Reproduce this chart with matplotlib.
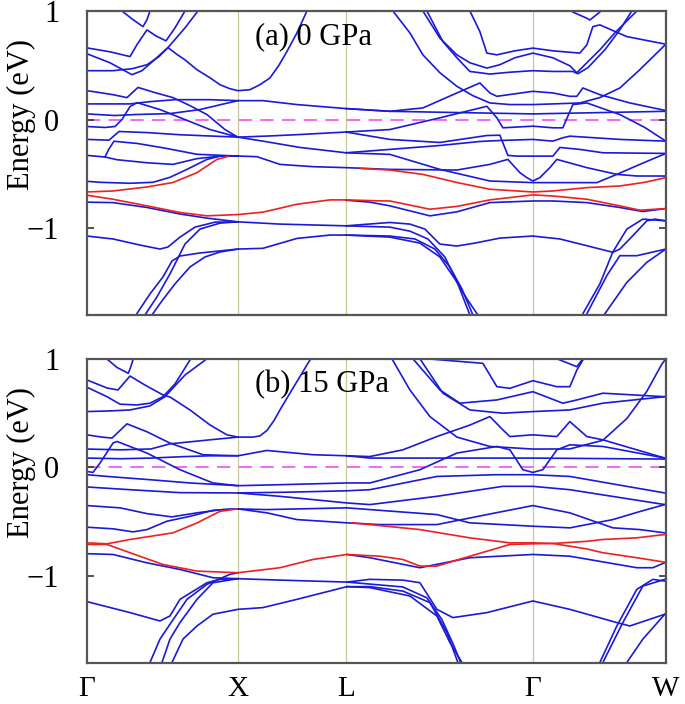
import matplotlib
matplotlib.use("Agg")
import matplotlib.pyplot as plt

plt.rcParams['font.family'] = ['Liberation Serif', 'DejaVu Serif']

# high-symmetry points along the k-path (path length, arbitrary units)
kpts = [0.0, 1.51, 2.59, 4.46, 5.79]
klabels = ['Γ', 'X', 'L', 'Γ', 'W']
ylim = (-1.8, 1.0)

# panel (a) 0 GPa : bands as (k, E[eV]) points
a_blue = [
    [(0.30, 1.06), (0.35, 1.00), (0.46, 0.92), (0.56, 0.856), (0.60, 0.92), (0.63, 1.0), (0.66, 1.08)],
    [(0.00, 0.66), (0.23, 0.624), (0.43, 0.58), (0.50, 0.69), (0.60, 0.826), (0.69, 0.77), (0.79, 0.725),
     (0.88, 0.844), (0.98, 1.0), (1.03, 1.07)],
    [(0.00, 0.606), (0.23, 0.523), (0.45, 0.413), (0.55, 0.45), (0.65, 0.53), (0.81, 0.663), (0.98, 0.844),
     (1.11, 1.0), (1.17, 1.07)],
    [(0.00, 0.45), (0.26, 0.45), (0.45, 0.468), (0.60, 0.505), (0.72, 0.58), (0.81, 0.663), (0.90, 0.60),
     (0.98, 0.55), (1.10, 0.459), (1.23, 0.385), (1.33, 0.321), (1.43, 0.284), (1.51, 0.266), (1.63, 0.275),
     (1.73, 0.321), (1.83, 0.383), (1.92, 0.50), (2.00, 0.627), (2.10, 0.798), (2.20, 1.0), (2.25, 1.09)],
    [(0.00, 0.266), (0.13, 0.248), (0.26, 0.229), (0.40, 0.202), (0.51, 0.296), (0.68, 0.248), (0.86, 0.202),
     (1.03, 0.128), (1.20, 0.046), (1.38, -0.092), (1.51, -0.162), (1.83, -0.151), (2.13, -0.138),
     (2.59, -0.115), (3.03, -0.092), (3.53, 0.016), (4.00, 0.122), (4.10, 0.016), (4.16, -0.076),
     (4.46, -0.061), (4.66, -0.076), (4.76, -0.076), (4.86, 0.138), (5.00, 0.153), (5.33, 0.046),
     (5.58, -0.073), (5.79, -0.199)],
    [(0.00, 0.144), (0.43, 0.144), (0.63, 0.165), (0.88, 0.183), (1.23, 0.183), (1.51, 0.174), (1.76, 0.174),
     (2.10, 0.138), (2.59, 0.101), (3.03, 0.076), (3.73, 0.064), (4.46, 0.052), (5.13, 0.064), (5.79, 0.076)],
    [(0.00, 0.052), (0.28, 0.037), (0.48, 0.046), (0.83, 0.055), (1.13, 0.092), (1.35, 0.14), (1.51, 0.174)],
    [(2.59, 0.101), (3.03, 0.076), (3.36, 0.107), (3.70, 0.245), (3.93, 0.337), (4.03, 0.245), (4.10, 0.214),
     (4.46, 0.26), (4.66, 0.245), (4.83, 0.214), (4.90, 0.214), (4.96, 0.291), (5.13, 0.229), (5.43, 0.153),
     (5.79, 0.083)],
    [(0.00, -0.064), (0.18, -0.073), (0.28, -0.064), (0.35, 0.0), (0.43, 0.119), (0.50, 0.156), (0.73, 0.092),
     (0.98, 0.0), (1.23, -0.092), (1.51, -0.162), (1.78, -0.202), (2.13, -0.257), (2.59, -0.306),
     (3.03, -0.275), (3.53, -0.239), (3.93, -0.202), (4.13, -0.193), (4.46, -0.183), (4.66, -0.199),
     (4.76, -0.168), (4.83, -0.153), (5.33, -0.183), (5.79, -0.199)],
    [(0.00, -0.183), (0.22, -0.19), (0.27, -0.15), (0.32, -0.11), (0.60, -0.12), (0.93, -0.14), (1.51, -0.162)],
    [(0.00, -0.33), (0.18, -0.345), (0.22, -0.27), (0.27, -0.20), (0.50, -0.22), (0.76, -0.26), (1.10, -0.32),
     (1.51, -0.336), (1.70, -0.342), (1.93, -0.413), (2.26, -0.434), (2.59, -0.443), (3.03, -0.459),
     (3.70, -0.465), (4.03, -0.413), (4.21, -0.367), (4.33, -0.489), (4.40, -0.535), (4.46, -0.566),
     (4.53, -0.535), (4.63, -0.443), (4.70, -0.367), (5.00, -0.443), (5.30, -0.505), (5.50, -0.52),
     (5.79, -0.52)],
    [(0.18, -0.345), (0.30, -0.37), (0.60, -0.398), (0.86, -0.413), (1.10, -0.36), (1.33, -0.337),
     (1.51, -0.336)],
    [(0.00, -0.569), (0.13, -0.578), (0.43, -0.587), (0.66, -0.578), (0.83, -0.532), (1.00, -0.459),
     (1.20, -0.367), (1.33, -0.337), (1.51, -0.336)],
    [(2.59, -0.115), (3.03, -0.183), (3.53, -0.211), (4.00, -0.147), (4.13, -0.144), (4.21, -0.33),
     (4.30, -0.337), (4.46, -0.337), (4.66, -0.337), (4.73, -0.257), (4.93, -0.275), (5.16, -0.306),
     (5.79, -0.312)],
    [(2.59, -0.306), (3.03, -0.321), (3.53, -0.459), (4.03, -0.566), (4.46, -0.581), (4.83, -0.581),
     (5.10, -0.581), (5.30, -0.505), (5.53, -0.413), (5.79, -0.312)],
    [(0.00, -0.761), (0.26, -0.765), (0.60, -0.81), (0.93, -0.87), (1.20, -0.908), (1.51, -0.942),
     (1.93, -0.963), (2.59, -0.979), (3.03, -0.948), (3.23, -0.963), (3.38, -1.009), (3.53, -1.147),
     (3.70, -1.165), (3.88, -1.138), (4.13, -1.092), (4.46, -1.073), (4.73, -1.10), (5.00, -1.162),
     (5.26, -1.223), (5.33, -1.193), (5.46, -1.07), (5.60, -0.933), (5.68, -0.917), (5.79, -0.933)],
    [(2.59, -0.743), (2.83, -0.761), (3.03, -0.795), (3.43, -0.887), (3.70, -0.85), (4.03, -0.765),
     (4.46, -0.75), (4.66, -0.75), (5.00, -0.765), (5.33, -0.81), (5.56, -0.847), (5.79, -0.82)],
    [(0.00, -1.073), (0.26, -1.10), (0.53, -1.156), (0.73, -1.193), (0.81, -1.174), (0.93, -1.083),
     (1.08, -0.991), (1.28, -0.945), (1.51, -0.942)],
    [(0.43, -1.89), (0.49, -1.80), (0.63, -1.606), (0.76, -1.45), (0.85, -1.303), (0.93, -1.257),
     (1.13, -1.229), (1.51, -1.193), (1.76, -1.186), (2.10, -1.095), (2.43, -1.064), (2.59, -1.064),
     (3.03, -1.073), (3.28, -1.10), (3.48, -1.193), (3.63, -1.358), (3.75, -1.56), (3.86, -1.80), (3.91, -1.91)],
    [(0.53, -1.89), (0.58, -1.80), (0.70, -1.633), (0.83, -1.422), (0.98, -1.147), (1.13, -1.009),
     (1.33, -0.954), (1.51, -0.942)],
    [(0.60, -1.89), (0.65, -1.80), (0.75, -1.67), (0.88, -1.514), (1.03, -1.358), (1.18, -1.266),
     (1.33, -1.22), (1.51, -1.193)],
    [(2.59, -1.064), (3.03, -1.083), (3.33, -1.138), (3.53, -1.266), (3.68, -1.468), (3.80, -1.651),
     (3.91, -1.80), (3.96, -1.89)],
    [(2.59, -0.979), (3.03, -0.991), (3.23, -1.028), (3.41, -1.10), (3.58, -1.266), (3.71, -1.514),
     (3.83, -1.80), (3.87, -1.89)],
    [(4.93, -1.89), (4.96, -1.789), (5.13, -1.514), (5.26, -1.22), (5.40, -1.009), (5.56, -0.917), (5.79, -0.933)],
    [(4.97, -1.89), (5.00, -1.789), (5.20, -1.437), (5.33, -1.254), (5.50, -1.254), (5.79, -1.193)],
    [(5.13, -1.89), (5.18, -1.789), (5.40, -1.50), (5.60, -1.315), (5.79, -1.193)],
    [(3.03, 1.055), (3.06, 1.0), (3.23, 0.798), (3.36, 0.596), (3.53, 0.431), (3.70, 0.306), (3.86, 0.22),
     (4.03, 0.153), (4.23, 0.138), (4.46, 0.138), (4.66, 0.144), (4.93, 0.153), (5.13, 0.202), (5.33, 0.291),
     (5.53, 0.459), (5.79, 0.694)],
    [(3.33, 1.055), (3.36, 1.0), (3.53, 0.75), (3.70, 0.596), (3.83, 0.523), (4.00, 0.474), (4.13, 0.505),
     (4.28, 0.569), (4.46, 0.612), (4.66, 0.569), (4.83, 0.495), (4.90, 0.431), (4.98, 0.505), (5.13, 0.642),
     (5.28, 0.798), (5.43, 0.936), (5.50, 1.0), (5.55, 1.06)],
    [(3.37, 1.055), (3.40, 1.0), (3.56, 0.718), (3.70, 0.569), (3.83, 0.443), (4.03, 0.419), (4.23, 0.436),
     (4.46, 0.45), (4.66, 0.443), (4.86, 0.443), (4.91, 0.422), (5.01, 0.477), (5.18, 0.642), (5.33, 0.826),
     (5.45, 1.0), (5.49, 1.06)],
    [(3.81, 1.055), (3.83, 1.0), (3.93, 0.81), (4.00, 0.612), (4.10, 0.596), (4.28, 0.633), (4.46, 0.658),
     (4.66, 0.633), (4.93, 0.612), (5.00, 0.688), (5.06, 0.856), (5.13, 0.872), (5.40, 0.764), (5.79, 0.694)],
    [(4.82, 1.06), (4.86, 0.99), (5.00, 0.933), (5.03, 0.917), (5.13, 0.99), (5.17, 1.06)],
]
a_red = [
    [(0.00, -0.667), (0.26, -0.658), (0.60, -0.621), (0.86, -0.58), (1.10, -0.489), (1.30, -0.367), (1.41, -0.34)],
    [(0.00, -0.697), (0.26, -0.734), (0.60, -0.795), (0.93, -0.856), (1.20, -0.887), (1.51, -0.875),
     (1.76, -0.853), (2.10, -0.78), (2.43, -0.74), (2.59, -0.74), (2.93, -0.749), (3.03, -0.75), (3.43, -0.826),
     (3.70, -0.80), (4.03, -0.74), (4.46, -0.694), (4.66, -0.704), (5.00, -0.734), (5.33, -0.795),
     (5.53, -0.835), (5.79, -0.82)],
    [(2.73, -0.45), (3.03, -0.465), (3.36, -0.505), (3.70, -0.58), (4.03, -0.642), (4.46, -0.667),
     (4.66, -0.658), (5.00, -0.627), (5.33, -0.612), (5.58, -0.578), (5.79, -0.535)],
]

# panel (b) 15 GPa
b_blue = [
    [(0.15, 1.06), (0.197, 1.0), (0.30, 0.92), (0.413, 0.866), (0.44, 0.93), (0.463, 1.0), (0.49, 1.06)],
    [(0.00, 0.805), (0.20, 0.731), (0.31, 0.713), (0.43, 0.841), (0.58, 0.758), (0.76, 0.667), (0.83, 0.648),
     (1.03, 0.529), (1.23, 0.391), (1.40, 0.30), (1.51, 0.279), (1.66, 0.279), (1.73, 0.29), (1.80, 0.34),
     (1.87, 0.43), (1.93, 0.529), (2.08, 0.76), (2.23, 0.988), (2.28, 1.06)],
    [(0.00, 0.738), (0.20, 0.651), (0.33, 0.582), (0.50, 0.575), (0.63, 0.591), (0.76, 0.651), (0.88, 0.768),
     (1.03, 0.988), (1.08, 1.06)],
    [(0.00, 0.514), (0.23, 0.52), (0.43, 0.529), (0.63, 0.566), (0.78, 0.651), (0.98, 0.85), (1.20, 1.0),
     (1.26, 1.06)],
    [(0.00, 0.30), (0.14, 0.28), (0.25, 0.27), (0.40, 0.401), (0.60, 0.328), (0.83, 0.224), (1.16, 0.117),
     (1.36, 0.111), (1.51, 0.107), (1.80, 0.156), (2.26, 0.117), (2.60, 0.107), (2.83, 0.086), (4.46, 0.086),
     (5.78, 0.077)],
    [(0.00, 0.169), (0.34, 0.162), (0.64, 0.17), (0.83, 0.217), (1.23, 0.254), (1.51, 0.279)],
    [(0.00, 0.086), (0.34, 0.08), (0.64, 0.086), (0.93, 0.098), (1.23, 0.107), (1.51, 0.107)],
    [(2.60, 0.107), (2.83, 0.10), (3.16, 0.162), (3.50, 0.284), (3.83, 0.39), (4.03, 0.468), (4.16, 0.346),
     (4.23, 0.284), (4.46, 0.30), (4.70, 0.284), (4.83, 0.422), (5.00, 0.284), (5.16, 0.254), (5.78, 0.086)],
    [(0.00, -0.037), (0.06, -0.046), (0.13, 0.04), (0.26, 0.224), (0.30, 0.239), (0.60, 0.132), (0.93, -0.021),
     (1.26, -0.143), (1.51, -0.168), (1.93, -0.159), (2.60, -0.143), (2.83, -0.143), (3.33, -0.021),
     (3.70, 0.132), (4.10, 0.193), (4.23, 0.162), (4.36, -0.021), (4.46, -0.046), (4.56, -0.021), (4.70, 0.162),
     (4.83, 0.208), (5.16, 0.193), (5.78, 0.086)],
    [(0.00, -0.067), (0.23, -0.085), (0.63, -0.113), (1.03, -0.143), (1.51, -0.168)],
    [(1.51, -0.235), (2.00, -0.228), (2.60, -0.215), (2.83, -0.205), (3.50, -0.083), (4.10, -0.067),
     (4.46, -0.067), (4.83, -0.083), (5.78, -0.235)],
    [(0.00, -0.18), (0.43, -0.205), (0.93, -0.232), (1.51, -0.235), (1.93, -0.266), (2.60, -0.327),
     (2.83, -0.342), (3.50, -0.266), (4.16, -0.174), (4.46, -0.174), (4.83, -0.205), (5.78, -0.342)],
    [(0.00, -0.351), (0.33, -0.372), (0.60, -0.425), (0.85, -0.455), (1.10, -0.418), (1.33, -0.39),
     (1.51, -0.382), (1.80, -0.388), (2.60, -0.372), (2.83, -0.388), (3.50, -0.434), (3.83, -0.51),
     (4.46, -0.541), (4.83, -0.556), (5.26, -0.48), (5.53, -0.406), (5.78, -0.342)],
    [(0.00, -0.55), (0.26, -0.565), (0.46, -0.593), (0.60, -0.572), (0.80, -0.495), (1.03, -0.45),
     (1.26, -0.395), (1.46, -0.382), (1.51, -0.382), (1.80, -0.418), (2.10, -0.48), (2.60, -0.51),
     (2.93, -0.526), (3.50, -0.526), (4.00, -0.434), (4.46, -0.351), (4.83, -0.418), (5.26, -0.556),
     (5.53, -0.572), (5.78, -0.602)],
    [(0.00, -0.794), (0.26, -0.801), (0.60, -0.878), (0.93, -0.939), (1.26, -1.015), (1.51, -1.024),
     (1.93, -1.037), (2.60, -1.055), (2.83, -1.03), (3.16, -1.037), (3.33, -1.061), (3.50, -1.306),
     (3.66, -1.382), (4.00, -1.336), (4.46, -1.229), (4.83, -1.306), (5.30, -1.428), (5.43, -1.459),
     (5.78, -1.351)],
    [(2.60, -0.801), (2.83, -0.831), (3.33, -0.923), (3.83, -0.831), (4.46, -0.801), (4.83, -0.817),
     (5.50, -0.923), (5.66, -0.923), (5.78, -0.877)],
    [(0.00, -1.235), (0.43, -1.336), (0.73, -1.413), (0.83, -1.367), (0.93, -1.214), (1.20, -1.061),
     (1.33, -1.03), (1.51, -1.024)],
    [(0.60, -1.9), (0.63, -1.795), (0.73, -1.58), (0.83, -1.443), (1.00, -1.214), (1.20, -1.076),
     (1.43, -0.984), (1.51, -0.969)],
    [(0.72, -1.9), (0.75, -1.795), (0.83, -1.58), (0.93, -1.428), (1.10, -1.214), (1.26, -1.061), (1.51, -1.024)],
    [(0.82, -1.9), (0.85, -1.795), (0.96, -1.58), (1.10, -1.459), (1.26, -1.351), (1.51, -1.306), (1.76, -1.29),
     (2.10, -1.214), (2.60, -1.097), (2.83, -1.097), (3.16, -1.138), (3.43, -1.244), (3.60, -1.519),
     (3.71, -1.795), (3.76, -1.9)],
    [(2.60, -1.097), (2.83, -1.106), (3.23, -1.183), (3.50, -1.367), (3.63, -1.611), (3.75, -1.795), (3.79, -1.9)],
    [(2.60, -1.055), (3.16, -1.10), (3.40, -1.20), (3.55, -1.40), (3.66, -1.62), (3.74, -1.80), (3.78, -1.9)],
    [(5.10, -1.9), (5.13, -1.795), (5.30, -1.459), (5.50, -1.122), (5.66, -1.03), (5.78, -1.046)],
    [(5.13, -1.9), (5.16, -1.795), (5.36, -1.428), (5.56, -1.092), (5.78, -1.03)],
    [(5.37, -1.9), (5.40, -1.795), (5.56, -1.58), (5.78, -1.351)],
    [(3.02, 1.06), (3.05, 1.0), (3.23, 0.713), (3.43, 0.468), (3.70, 0.279), (4.03, 0.193), (4.46, 0.169),
     (4.83, 0.17), (5.16, 0.25), (5.40, 0.45), (5.60, 0.70), (5.75, 0.95), (5.79, 1.0)],
    [(3.23, 1.06), (3.26, 1.0), (3.53, 0.713), (3.73, 0.591), (4.10, 0.621), (4.46, 0.697), (4.76, 0.591),
     (4.90, 0.621), (5.16, 0.683), (5.78, 0.651)],
    [(3.37, 1.06), (3.40, 1.0), (3.96, 0.958), (4.10, 0.743), (4.23, 0.728), (4.46, 0.798), (4.70, 0.743),
     (4.83, 0.743), (4.90, 0.896), (4.96, 0.988), (5.00, 1.06)],
    [(3.30, 1.06), (3.33, 1.0), (3.56, 0.683), (3.83, 0.529), (4.16, 0.499), (4.46, 0.514), (4.83, 0.529),
     (5.16, 0.591), (5.78, 0.651)],
    [(4.66, 1.06), (4.70, 1.0), (4.90, 0.927), (4.96, 1.0), (5.00, 1.06)],
]
b_red = [
    [(0.00, -0.694), (0.20, -0.703), (0.43, -0.663), (0.60, -0.639), (0.86, -0.602), (1.10, -0.511),
     (1.33, -0.404), (1.50, -0.382)],
    [(0.00, -0.709), (0.20, -0.709), (0.43, -0.785), (0.76, -0.893), (1.10, -0.954), (1.51, -0.969),
     (1.93, -0.923), (2.26, -0.847), (2.60, -0.801), (2.93, -0.817), (3.16, -0.847), (3.33, -0.908),
     (3.50, -0.908), (3.83, -0.817), (4.23, -0.709), (4.46, -0.703), (4.66, -0.70), (5.00, -0.68),
     (5.16, -0.663), (5.50, -0.648), (5.78, -0.617)],
    [(2.65, -0.51), (2.83, -0.526), (3.33, -0.572), (3.83, -0.648), (4.23, -0.694), (4.46, -0.694),
     (4.66, -0.70), (5.00, -0.75), (5.16, -0.785), (5.50, -0.831), (5.78, -0.872)],
]

panels = [('(a) 0 GPa', a_blue, a_red), ('(b) 15 GPa', b_blue, b_red)]

fig = plt.figure(figsize=(6.85, 7.04), dpi=100)
boxes = [[0.127, 0.5526, 0.845, 0.4318], [0.127, 0.0582, 0.845, 0.4322]]

for i, (title, blue, red) in enumerate(panels):
    ax = fig.add_axes(boxes[i])
    for k in kpts[1:-1]:
        ax.axvline(k, color='#c8c89a', lw=0.9, zorder=1)
    ax.axhline(0.0, color='#f050f0', lw=1.2, dashes=(8, 5), zorder=1)
    for band in blue:
        ks, es = zip(*band)
        ax.plot(ks, es, color='#1a1ad8', lw=1.2, zorder=2)
    for band in red:
        ks, es = zip(*band)
        ax.plot(ks, es, color='#ee2020', lw=1.2, zorder=3)

    ax.set_xlim(kpts[0], kpts[-1])
    ax.set_ylim(*ylim)
    ax.set_yticks([-1, 0, 1])
    ax.set_yticklabels(['\u22121', '0', '1'])
    ax.tick_params(axis='y', direction='in', length=5, width=1.2, right=True,
                   labelsize=22, pad=20, color='#333333')
    ax.set_xticks(kpts)
    if i == 1:
        ax.set_xticklabels(klabels)
    else:
        ax.set_xticklabels([])
    ax.tick_params(axis='x', length=0, labelsize=21, pad=9)
    for s in ax.spines.values():
        s.set_color('#555555')
        s.set_linewidth(1.6)
    ax.set_ylabel('Energy (eV)', fontsize=22)
    ax.yaxis.set_label_coords(-0.088, 0.66)
    ax.text(0.29, 0.915, title, transform=ax.transAxes, fontsize=22, va='center', ha='left')

fig.savefig('out.png', dpi=100)
